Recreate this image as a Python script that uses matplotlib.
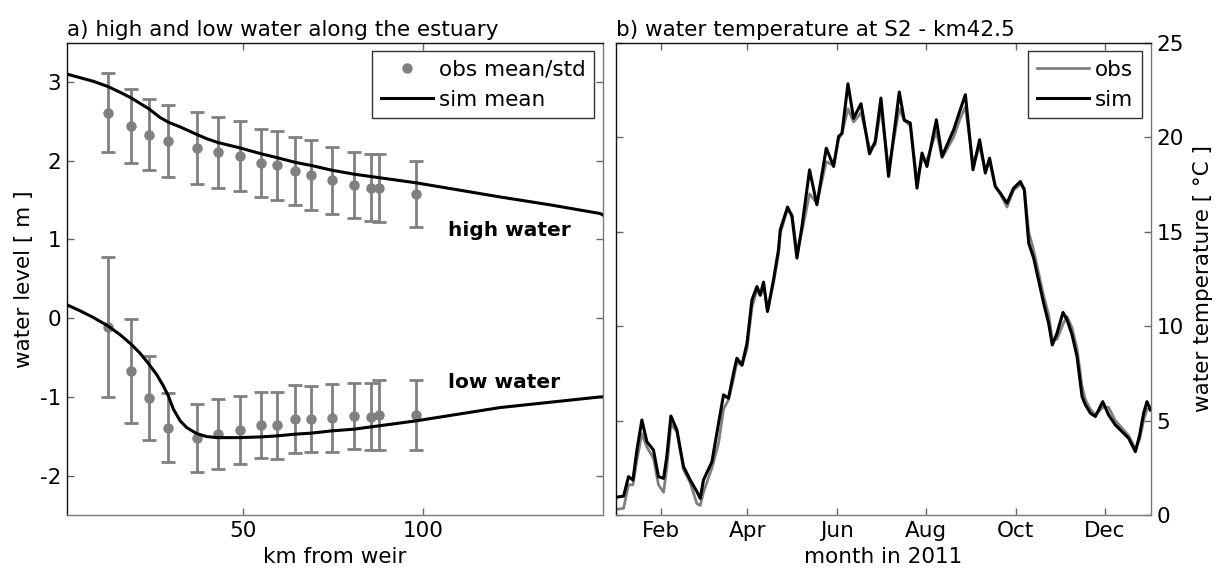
import datetime as dt
import matplotlib
matplotlib.use("Agg")
import matplotlib.pyplot as plt
import matplotlib.dates as mdates

plt.rcParams["font.family"] = ["DejaVu Sans"]
FS = 15.5

# ---- a) high and low water along the estuary ----
obs_km = [12.2, 18.7, 23.7, 29.1, 37.0, 42.8, 48.9, 54.8, 59.3, 64.4,
          68.9, 74.6, 80.7, 85.5, 87.8, 98.0]
hw_obs_mean = [2.61, 2.44, 2.33, 2.25, 2.16, 2.11, 2.06, 1.97, 1.94, 1.87,
               1.82, 1.75, 1.69, 1.66, 1.65, 1.58]
hw_obs_std = [0.50, 0.47, 0.45, 0.46, 0.455, 0.45, 0.445, 0.435, 0.44, 0.43,
              0.44, 0.42, 0.42, 0.43, 0.43, 0.42]
lw_obs_mean = [-0.11, -0.67, -1.01, -1.39, -1.52, -1.47, -1.42, -1.36, -1.36,
               -1.28, -1.28, -1.27, -1.24, -1.25, -1.23, -1.23]
lw_obs_std = [0.885, 0.655, 0.535, 0.44, 0.43, 0.44, 0.43, 0.42, 0.425, 0.43,
              0.425, 0.43, 0.42, 0.43, 0.44, 0.44]

hw_sim_km = [1.0, 8.2, 12.2, 15.7, 18.7, 21.2, 23.7, 26.8, 29.1, 32.4, 37.0,
             39.8, 42.8, 48.9, 54.8, 59.3, 64.4, 68.9, 74.6, 80.7, 98.0,
             121.4, 135.3, 149.2, 150.0]
hw_sim = [3.10, 3.01, 2.945, 2.87, 2.80, 2.73, 2.66, 2.55, 2.49, 2.43, 2.335,
          2.28, 2.233, 2.165, 2.09, 2.04, 1.98, 1.94, 1.88, 1.83, 1.72,
          1.54, 1.44, 1.33, 1.31]

lw_sim_km = [1.0, 4.5, 8.2, 12.2, 15.7, 18.7, 21.2, 23.7, 25.9, 27.7, 29.1,
             30.5, 32.4, 34.2, 37.0, 39.8, 42.8, 48.9, 54.8, 59.3, 64.4, 68.9,
             74.6, 80.7, 98.0, 121.4, 149.2, 150.0]
lw_sim = [0.168, 0.095, 0.010, -0.095, -0.21, -0.328, -0.443, -0.583, -0.719,
          -0.859, -0.986, -1.155, -1.304, -1.389, -1.466, -1.504, -1.517,
          -1.517, -1.508, -1.495, -1.473, -1.46, -1.431, -1.41, -1.304,
          -1.135, -1.0, -0.998]

# ---- b) water temperature at S2 ----
day = [0.5, 5.5, 8.9, 11.9, 14.6, 18.0, 21.4, 25.9, 29.3, 32.8, 35.0, 37.8,
       41.9, 46.4, 51.0, 55.5, 57.8, 60.0, 65.8, 70.3, 73.7, 77.1, 80.5, 82.8,
       86.3, 89.7, 93.1, 96.5, 98.8, 101.0, 103.7, 107.8, 111.2, 112.4, 117.4,
       120.4, 123.8, 127.2, 132.4, 137.4, 143.8, 148.8, 152.2, 154.5, 158.6,
       162.4, 167.5, 173.3, 177.2, 181.1, 186.3, 193.6, 197.0, 201.1, 205.7,
       209.1, 212.5, 218.9, 222.8, 230.7, 235.2, 238.7, 243.9, 248.4, 252.3,
       255.2, 259.1, 262.5, 267.1, 271.6, 276.2, 278.9, 281.9, 285.3, 288.7,
       292.1, 295.5, 298.0, 301.2, 305.3, 308.1, 311.5, 314.9, 318.3, 320.6,
       324.0, 327.4, 332.4, 336.4, 341.0, 345.6, 350.1, 354.7, 357.6, 360.3,
       362.6, 365.0]
temp_sim = [0.94, 1.0, 2.03, 1.85, 3.44, 5.03, 3.88, 3.44, 2.03, 1.94, 3.09,
            5.24, 4.5, 2.56, 1.85, 1.24, 0.88, 1.85, 2.82, 4.86, 6.36, 6.18,
            7.5, 8.3, 7.94, 9.09, 11.39, 12.09, 11.65, 12.33, 10.77, 12.45,
            14.04, 15.1, 16.3, 15.8, 13.6, 15.27, 18.27, 16.42, 19.42, 18.45,
            20.04, 20.2, 22.83, 21.0, 21.77, 19.12, 19.77, 22.07, 17.92, 22.39,
            20.9, 20.75, 17.3, 19.16, 18.45, 20.92, 18.98, 20.39, 21.45, 22.25,
            18.27, 19.86, 18.1, 18.89, 17.39, 17.04, 16.51, 17.3, 17.65, 17.21,
            14.39, 13.6, 12.4, 11.21, 10.15, 9.0, 9.62, 10.72, 10.33, 9.53,
            8.38, 6.27, 5.83, 5.39, 5.21, 6.0, 5.3, 4.77, 4.41, 4.06, 3.35,
            4.24, 5.39, 6.0, 5.56]
temp_obs = [0.3, 0.35, 1.6, 1.6, 2.9, 4.3, 3.6, 3.0, 1.6, 1.2, 2.5, 4.8, 4.4,
            2.4, 1.7, 0.6, 0.5, 1.2, 2.5, 3.8, 5.6, 6.1, 7.2, 8.1, 7.9, 8.8,
            11.0, 11.9, 11.6, 12.2, 10.8, 12.3, 13.8, 14.9, 16.2, 15.9, 13.9,
            15.0, 17.0, 16.5, 18.7, 18.5, 19.9, 20.2, 21.5, 20.8, 21.3, 19.4,
            19.6, 21.6, 18.3, 21.5, 20.9, 20.6, 17.7, 18.8, 18.8, 20.3, 18.9,
            20.0, 21.0, 21.6, 18.6, 19.5, 18.3, 18.7, 17.4, 17.0, 16.3, 17.2,
            17.5, 17.3, 15.0, 14.0, 12.8, 11.6, 10.6, 9.3, 9.3, 10.1, 10.5,
            9.9, 8.8, 6.8, 6.1, 5.6, 5.3, 5.7, 5.7, 5.0, 4.6, 4.2, 3.5, 4.0,
            5.0, 5.6, 5.6]

W, H = 1222, 573
fig = plt.figure(figsize=(W / 100, H / 100), dpi=100)

DARK = "#111111"
LIGHT = "#7a7a7a"
GREY = "#808080"


def style_axes(ax):
    ax.spines["top"].set_color(DARK)
    ax.spines["left"].set_color(DARK)
    ax.spines["bottom"].set_color(LIGHT)
    ax.spines["right"].set_color(LIGHT)
    for s in ax.spines.values():
        s.set_linewidth(1.0)
    ax.tick_params(direction="in", length=5, width=1, color="#666666",
                   top=True, right=True, labelsize=FS, labelcolor="black",
                   pad=4.5)


def style_legend(leg):
    fr = leg.get_frame()
    fr.set_edgecolor("black")
    fr.set_linewidth(1.0)


legend_kw = dict(loc="upper right", fontsize=FS, frameon=True, fancybox=False,
                 borderpad=0.4, handlelength=2.4, handletextpad=0.3,
                 labelspacing=0.45, borderaxespad=0.4)

axL = fig.add_axes([67.3 / W, 1 - 515 / H, (603 - 67.3) / W, (515 - 42.7) / H])
axR = fig.add_axes([615.5 / W, 1 - 515 / H, (1150.5 - 615.5) / W, (515 - 42.7) / H])

# left panel: observed mean +/- std and simulated mean
for mean, std in ((hw_obs_mean, hw_obs_std), (lw_obs_mean, lw_obs_std)):
    axL.errorbar(obs_km, mean, yerr=std, fmt="o", color=GREY, ecolor=GREY,
                 elinewidth=2, capsize=4.7, capthick=2, markersize=6.5,
                 zorder=2)
axL.plot(hw_sim_km, hw_sim, color="black", lw=2.2, zorder=3)
axL.plot(lw_sim_km, lw_sim, color="black", lw=2.2, zorder=3)

axL.set_xlim(1, 150)
axL.set_ylim(-2.5, 3.5)
axL.set_xticks([50, 100])
axL.set_yticks([-2, -1, 0, 1, 2, 3])
axL.set_yticklabels(["-2", "-1", "0", "1", "2", "3"])
style_axes(axL)
axL.set_xlabel("km from weir", fontsize=FS, labelpad=4)
axL.set_ylabel("water level [ m ]", fontsize=FS, labelpad=4)
axL.set_title("a) high and low water along the estuary", fontsize=FS,
              loc="left", pad=5)
axL.text(107, 1.11, "high water", fontsize=14.5, fontweight="bold",
         va="center", ha="left")
axL.text(107, -0.82, "low water", fontsize=14.5, fontweight="bold",
         va="center", ha="left")

h_obs, = axL.plot([], [], "o", color=GREY, markersize=6.5)
h_sim, = axL.plot([], [], "-", color="black", lw=2.2)
style_legend(axL.legend([h_obs, h_sim], ["obs mean/std", "sim mean"],
                        **legend_kw))

# right panel: daily water temperature
t0 = dt.datetime(2011, 1, 1)
dates = [t0 + dt.timedelta(days=d) for d in day]
axR.plot(dates, temp_obs, color=GREY, lw=2.0, label="obs", zorder=2)
axR.plot(dates, temp_sim, color="black", lw=2.2, label="sim", zorder=3)
axR.set_xlim(t0, dt.datetime(2012, 1, 1))
axR.set_ylim(0, 25)
axR.xaxis.set_major_locator(mdates.MonthLocator(bymonth=[2, 4, 6, 8, 10, 12]))
axR.xaxis.set_major_formatter(mdates.DateFormatter("%b"))
axR.set_yticks([0, 5, 10, 15, 20, 25])
style_axes(axR)
axR.tick_params(labelleft=False, labelright=True)
axR.yaxis.set_label_position("right")
axR.set_ylabel("water temperature [ °C ]", fontsize=FS, labelpad=6)
axR.set_xlabel("month in 2011", fontsize=FS, labelpad=4)
axR.set_title("b) water temperature at S2 - km42.5", fontsize=FS,
              loc="left", pad=5)
style_legend(axR.legend(**legend_kw))

fig.savefig("out.png", dpi=100, facecolor="white")
